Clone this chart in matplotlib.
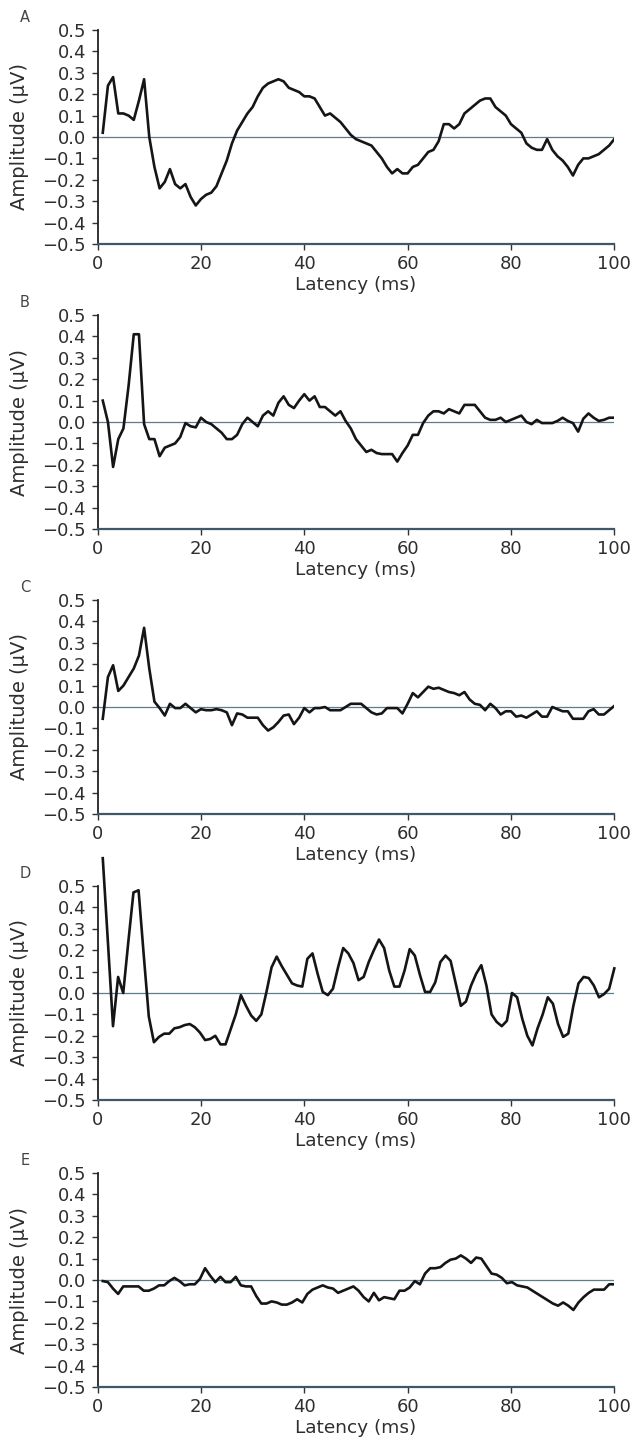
import matplotlib
matplotlib.use("Agg")
import matplotlib.pyplot as plt
import numpy as np

plt.rcParams['font.family'] = ['DejaVu Sans']

# Амплитуды (мкВ), отсчёты примерно через 1 мс
amp_a = [0.02, 0.24, 0.28, 0.11, 0.11, 0.10, 0.08, 0.17, 0.27, 0.00,
         -0.14, -0.24, -0.21, -0.15, -0.22, -0.24, -0.22, -0.28, -0.32, -0.29,
         -0.27, -0.26, -0.23, -0.17, -0.11, -0.03, 0.03, 0.07, 0.11, 0.14,
         0.19, 0.23, 0.25, 0.26, 0.27, 0.26, 0.23, 0.22, 0.21, 0.19,
         0.19, 0.18, 0.14, 0.10, 0.11, 0.09, 0.07, 0.04, 0.01, -0.01,
         -0.02, -0.03, -0.04, -0.07, -0.10, -0.14, -0.17, -0.15, -0.17, -0.17,
         -0.14, -0.13, -0.10, -0.07, -0.06, -0.02, 0.06, 0.06, 0.04, 0.06,
         0.11, 0.13, 0.15, 0.17, 0.18, 0.18, 0.14, 0.12, 0.10, 0.06,
         0.04, 0.02, -0.03, -0.05, -0.06, -0.06, -0.01, -0.06, -0.09, -0.11,
         -0.14, -0.18, -0.13, -0.10, -0.10, -0.09, -0.08, -0.06, -0.04, -0.01]

amp_b = [0.10, 0.00, -0.21, -0.08, -0.03, 0.17, 0.41, 0.41, -0.01, -0.08,
         -0.08, -0.16, -0.12, -0.11, -0.10, -0.07, -0.005, -0.02, -0.025, 0.02,
         0.00, -0.01, -0.03, -0.05, -0.08, -0.08, -0.06, -0.01, 0.02, 0.00,
         -0.02, 0.03, 0.05, 0.03, 0.09, 0.12, 0.08, 0.065, 0.10, 0.13,
         0.10, 0.12, 0.07, 0.07, 0.05, 0.03, 0.05, 0.005, -0.03, -0.08,
         -0.11, -0.14, -0.13, -0.145, -0.15, -0.15, -0.15, -0.185, -0.145, -0.11,
         -0.06, -0.06, -0.005, 0.03, 0.05, 0.05, 0.04, 0.06, 0.05, 0.04,
         0.08, 0.08, 0.08, 0.05, 0.02, 0.01, 0.01, 0.02, 0.00, 0.01,
         0.02, 0.03, 0.00, -0.01, 0.01, -0.005, -0.005, -0.005, 0.005, 0.02,
         0.005, -0.005, -0.045, 0.015, 0.04, 0.02, 0.005, 0.01, 0.02, 0.02]

amp_c = [-0.055, 0.14, 0.195, 0.075, 0.10, 0.14, 0.18, 0.24, 0.37, 0.18,
         0.025, -0.005, -0.04, 0.015, -0.005, -0.005, 0.015, -0.005, -0.025, -0.01,
         -0.015, -0.015, -0.01, -0.015, -0.025, -0.085, -0.03, -0.035, -0.05, -0.05,
         -0.05, -0.085, -0.11, -0.095, -0.07, -0.04, -0.035, -0.08, -0.05, -0.005,
         -0.025, -0.005, -0.005, 0.0, -0.015, -0.015, -0.015, 0.0, 0.015, 0.015,
         0.015, -0.005, -0.025, -0.035, -0.03, -0.005, -0.005, -0.005, -0.03, 0.015,
         0.065, 0.045, 0.07, 0.095, 0.085, 0.09, 0.08, 0.07, 0.065, 0.055,
         0.07, 0.035, 0.015, 0.01, -0.015, 0.015, -0.005, -0.035, -0.02, -0.02,
         -0.045, -0.04, -0.05, -0.035, -0.02, -0.045, -0.045, 0.0, -0.01, -0.02,
         -0.02, -0.055, -0.055, -0.055, -0.02, -0.01, -0.035, -0.035, -0.015, 0.005]

amp_d = [0.63, 0.24, -0.155, 0.075, 0.0, 0.24, 0.47, 0.48, 0.18, -0.11,
         -0.23, -0.205, -0.19, -0.19, -0.165, -0.16, -0.15, -0.145, -0.16, -0.185,
         -0.22, -0.215, -0.20, -0.24, -0.24, -0.17, -0.10, -0.01, -0.06, -0.105,
         -0.13, -0.10, 0.005, 0.12, 0.17, 0.125, 0.085, 0.045, 0.035, 0.03,
         0.16, 0.185, 0.09, 0.005, -0.01, 0.02, 0.12, 0.21, 0.185, 0.14,
         0.06, 0.075, 0.145, 0.20, 0.25, 0.21, 0.105, 0.03, 0.03, 0.105,
         0.205, 0.175, 0.085, 0.005, 0.005, 0.05, 0.145, 0.175, 0.15, 0.045,
         -0.06, -0.04, 0.035, 0.09, 0.13, 0.035, -0.10, -0.135, -0.155, -0.13,
         0.0, -0.02, -0.12, -0.20, -0.245, -0.165, -0.10, -0.02, -0.05, -0.145,
         -0.205, -0.19, -0.06, 0.045, 0.075, 0.07, 0.035, -0.02, -0.005, 0.02,
         0.115]

amp_e = [-0.005, -0.01, -0.04, -0.065, -0.03, -0.03, -0.03, -0.03, -0.05, -0.05,
         -0.04, -0.025, -0.025, -0.005, 0.01, -0.005, -0.025, -0.02, -0.02, 0.005,
         0.055, 0.02, -0.01, 0.015, -0.01, -0.01, 0.015, -0.025, -0.03, -0.03,
         -0.075, -0.11, -0.11, -0.10, -0.105, -0.115, -0.115, -0.105, -0.09, -0.105,
         -0.065, -0.045, -0.035, -0.025, -0.035, -0.04, -0.06, -0.05, -0.04, -0.03,
         -0.05, -0.08, -0.10, -0.06, -0.095, -0.08, -0.085, -0.09, -0.05, -0.05,
         -0.035, -0.005, -0.02, 0.03, 0.055, 0.055, 0.06, 0.08, 0.095, 0.10,
         0.115, 0.10, 0.08, 0.105, 0.10, 0.065, 0.03, 0.025, 0.01, -0.015,
         -0.01, -0.025, -0.03, -0.035, -0.05, -0.065, -0.08, -0.095, -0.11, -0.12,
         -0.105, -0.12, -0.14, -0.105, -0.08, -0.06, -0.045, -0.045, -0.045, -0.02,
         -0.02]

panel_names = ['A', 'B', 'C', 'D', 'E']
panels = [amp_a, amp_b, amp_c, amp_d, amp_e]

x_ticks = [0, 20, 40, 60, 80, 100]
y_ticks = [-0.5, -0.4, -0.3, -0.2, -0.1, 0.0, 0.1, 0.2, 0.3, 0.4, 0.5]
y_tick_labels = ['\u22120.5', '\u22120.4', '\u22120.3', '\u22120.2', '\u22120.1',
                 '0.0', '0.1', '0.2', '0.3', '0.4', '0.5']

W, H = 635, 1445
fig = plt.figure(figsize=(W / 100, H / 100), dpi=100)

# верх каждой панели в пикселях
tops = [30, 315, 600, 886, 1173]
ax_h = 214
left_px, ax_w = 97.6, 516.7

txt_col = '#2e2e2e'

for name, amp, top in zip(panel_names, panels, tops):
    ax = fig.add_axes([left_px / W, 1 - (top + ax_h) / H, ax_w / W, ax_h / H])
    lat = np.linspace(1, 100, len(amp))

    ax.axhline(0, color='#5d7d8c', lw=0.9, zorder=1)
    ax.plot(lat, amp, color='#151515', lw=1.9, zorder=3,
            clip_on=(name != 'D'))

    ax.set_xlim(0, 100)
    ax.set_ylim(-0.5, 0.5)
    ax.set_xticks(x_ticks)
    ax.set_yticks(y_ticks)
    ax.set_yticklabels(y_tick_labels)

    for s in ['top', 'right']:
        ax.spines[s].set_visible(False)
    ax.spines['left'].set_color('#222222')
    ax.spines['left'].set_linewidth(1.3)
    ax.spines['bottom'].set_color('#3d5866')
    ax.spines['bottom'].set_linewidth(1.6)

    ax.tick_params(axis='both', direction='out', length=4.3, width=1.0,
                   colors='#333333', labelsize=13, labelcolor=txt_col)
    ax.tick_params(axis='y', pad=4.0)
    ax.tick_params(axis='x', pad=3.5)

    ax.set_xlabel("Latency (ms)", fontsize=13.3, color=txt_col, va='center')
    ax.xaxis.set_label_coords(0.5, -0.19)
    ax.set_ylabel("Amplitude (\u00b5V)", fontsize=14, color=txt_col, va='center')
    ax.yaxis.set_label_coords(-0.152, 0.5)

    ax.text(-0.1405, 1.06, name, transform=ax.transAxes, fontsize=10.5,
            color='#444444', ha='center', va='center')

fig.savefig("out.png", dpi=100, facecolor='white')
